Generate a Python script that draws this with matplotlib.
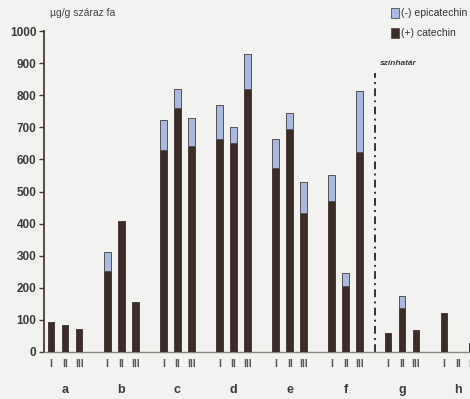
import matplotlib
matplotlib.use("Agg")
import matplotlib.pyplot as plt
from matplotlib.patches import Rectangle
import numpy as np

plt.rcParams['font.family'] = ['Liberation Sans', 'DejaVu Sans']

groups = ['a', 'b', 'c', 'd', 'e', 'f', 'g', 'h']
subs = ['I', 'II', 'III']
# totals and (+) catechin per group (I, II, III)
catechin = [
    [92, 83, 72],
    [252, 408, 156],
    [630, 759, 643],
    [664, 652, 818],
    [572, 695, 434],
    [470, 207, 622],
    [58, 138, 69],
    [121, 0, 28],
]
total = [
    [92, 83, 72],
    [312, 408, 156],
    [723, 819, 730],
    [768, 702, 928],
    [665, 746, 530],
    [551, 247, 813],
    [58, 174, 69],
    [121, 0, 28],
]
yticks = [0, 100, 200, 300, 400, 500, 600, 700, 800, 900, 1000]

W, H = 470, 399
fig = plt.figure(figsize=(W / 100, H / 100), dpi=100)
bg = '#f2f3f1'
fig.patch.set_facecolor(bg)
left = 44 / W
bottom = (H - 352) / H
top = (H - 31) / H
ax = fig.add_axes([left, bottom, 1 - left, top - bottom])
ax.set_facecolor(bg)

dark = '#3b2c28'
light = '#aab9e2'
spine_c = '#4a3a34'

xs, cat_v, epi_v = [], [], []
for g in range(len(groups)):
    for j in range(3):
        xs.append(g * 4 + j)
        cat_v.append(catechin[g][j])
        epi_v.append(total[g][j] - catechin[g][j])
xs = np.array(xs)
cat_v = np.array(cat_v)
epi_v = np.array(epi_v)

bw = 0.48
mask = cat_v > 0
ax.bar(xs[mask], cat_v[mask], width=bw, color=dark, edgecolor=dark, linewidth=0.6, zorder=3)
m2 = epi_v > 0
ax.bar(xs[m2], epi_v[m2], bottom=cat_v[m2], width=bw, color=light, edgecolor='#55504e',
       linewidth=0.7, zorder=3)

ax.set_xlim(-0.5, 29.85)
ax.set_ylim(0, 1000)
ax.set_yticks(yticks)
ax.set_yticklabels([str(v) for v in yticks], fontsize=8.5, fontweight='bold', color='#3a3a3a')
ax.tick_params(axis='y', direction='out', length=3.5, width=1.0, color=spine_c, pad=2)
ax.set_xticks([])
for s in ['top', 'right']:
    ax.spines[s].set_visible(False)
ax.spines['left'].set_color(spine_c)
ax.spines['left'].set_linewidth(1.3)
ax.spines['bottom'].set_color('#8a8580')
ax.spines['bottom'].set_linewidth(1.0)

# sub labels and group labels
for g in range(len(groups)):
    for j in range(3):
        ax.text(g * 4 + j, -37, subs[j], ha='center', va='center', fontsize=7.5,
                fontweight='bold', color='#555555', clip_on=False)
    ax.text(g * 4 + 1, -118, groups[g], ha='center', va='center', fontsize=9,
            fontweight='bold', color='#3a3a3a', clip_on=False)

# colour boundary line
ax.plot([23.05, 23.05], [0, 870], color='#333333', linestyle=(0, (4, 2.2, 1, 2.2)),
        linewidth=1.4, zorder=2)
ax.text(23.4, 900, 'színhatár', fontsize=6, fontstyle='italic', fontweight='bold',
        color='#3a3a3a', ha='left', va='center')

# y label
fig.text(50 / W, 1 - 13 / H, 'µg/g száraz fa', fontsize=7.5, color='#444444',
         ha='left', va='center')

# legend
for i, (lab, fc) in enumerate([('(-) epicatechin', light), ('(+) catechin', dark)]):
    yc = 13 + 20 * i
    fig.patches.append(Rectangle((391 / W, 1 - (yc + 4.5) / H), 8 / W, 9 / H,
                                 transform=fig.transFigure, facecolor=fc,
                                 edgecolor='#55504e', linewidth=0.6))
    fig.text(401 / W, 1 - yc / H, lab, fontsize=7.5, color='#333333', ha='left', va='center')

fig.savefig('out.png', dpi=100, facecolor=bg)
